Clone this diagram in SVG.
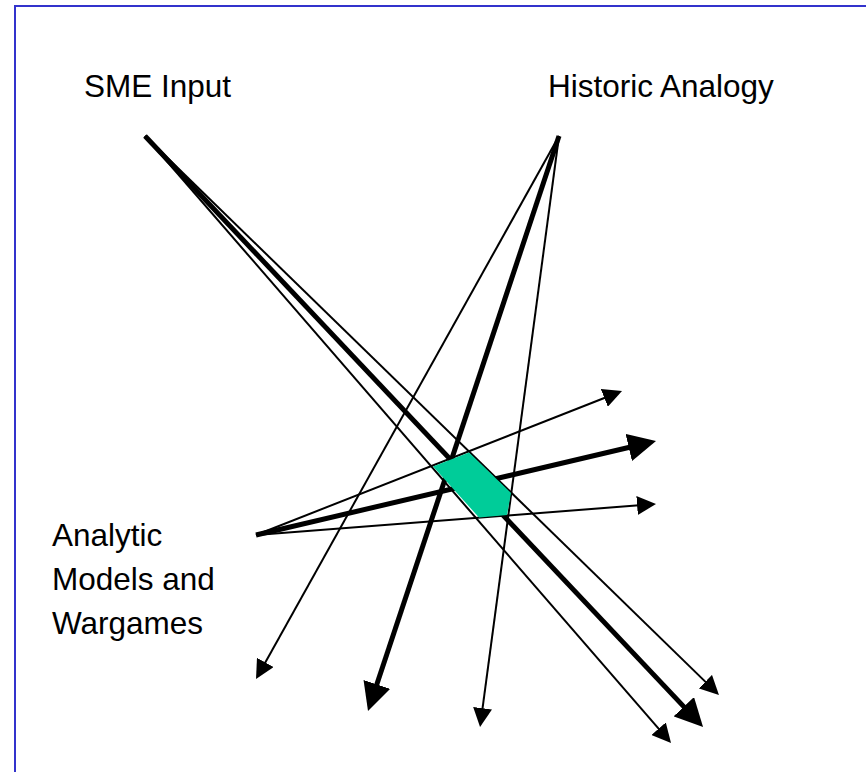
<svg xmlns="http://www.w3.org/2000/svg" width="866" height="772" viewBox="0 0 866 772">
  <style>
    .label { font-family: "Liberation Sans", Arial, sans-serif; font-size: 31.5px; fill: #000000; }
    .thin { stroke: #000000; stroke-width: 2; fill: none; marker-end: url(#headThin); }
    .thick { stroke: #000000; stroke-width: 5; fill: none; marker-end: url(#headThick); }
  </style>
  <defs>
    <marker id="headThin" markerUnits="userSpaceOnUse" markerWidth="19" markerHeight="19" refX="2" refY="9.5" orient="auto">
      <path d="M0,0 L19,9.5 L0,19 Z" fill="#000000"/>
    </marker>
    <marker id="headThick" markerUnits="userSpaceOnUse" markerWidth="28" markerHeight="28" refX="2" refY="14" orient="auto">
      <path d="M0,0 L28,14 L0,28 Z" fill="#000000"/>
    </marker>
  </defs>

  <rect width="866" height="772" fill="#ffffff"/>
  <!-- slide frame: only its top and left edges fall inside the view -->
  <rect x="15" y="6" width="900" height="900" fill="none" stroke="#3333cc" stroke-width="2"/>

  <g id="connectors">
    <!-- from SME Input -->
    <line class="thick" x1="145" y1="136" x2="685.2" y2="708.1"/>
    <line class="thin" x1="145" y1="136" x2="706.8" y2="683.1"/>
    <line class="thin" x1="145" y1="136" x2="659.9" y2="730.2"/>
    <!-- from Historic Analogy -->
    <line class="thin" x1="559" y1="136" x2="264.3" y2="664.2"/>
    <line class="thick" x1="559" y1="136" x2="376.2" y2="686.3"/>
    <line class="thin" x1="559" y1="136" x2="482.3" y2="710.2"/>
    <!-- from Analytic Models and Wargames -->
    <line class="thin" x1="256" y1="535" x2="606.2" y2="397.2"/>
    <line class="thick" x1="256" y1="535" x2="630.7" y2="447.0"/>
    <line class="thin" x1="256" y1="535" x2="639.1" y2="505.3"/>
  </g>

  <g id="overlap">
    <polygon points="433,466.5 469,452.5 511,493 507,515 479,517.5" fill="#00cc99"/>
  </g>

  <g id="sme-input">
    <text class="label" x="84" y="97">SME Input</text>
  </g>
  <g id="historic-analogy">
    <text class="label" x="548" y="97">Historic Analogy</text>
  </g>
  <g id="analytic-models">
    <text class="label" x="52" y="546">Analytic</text>
    <text class="label" x="52" y="590">Models and</text>
    <text class="label" x="52" y="634">Wargames</text>
  </g>
</svg>
